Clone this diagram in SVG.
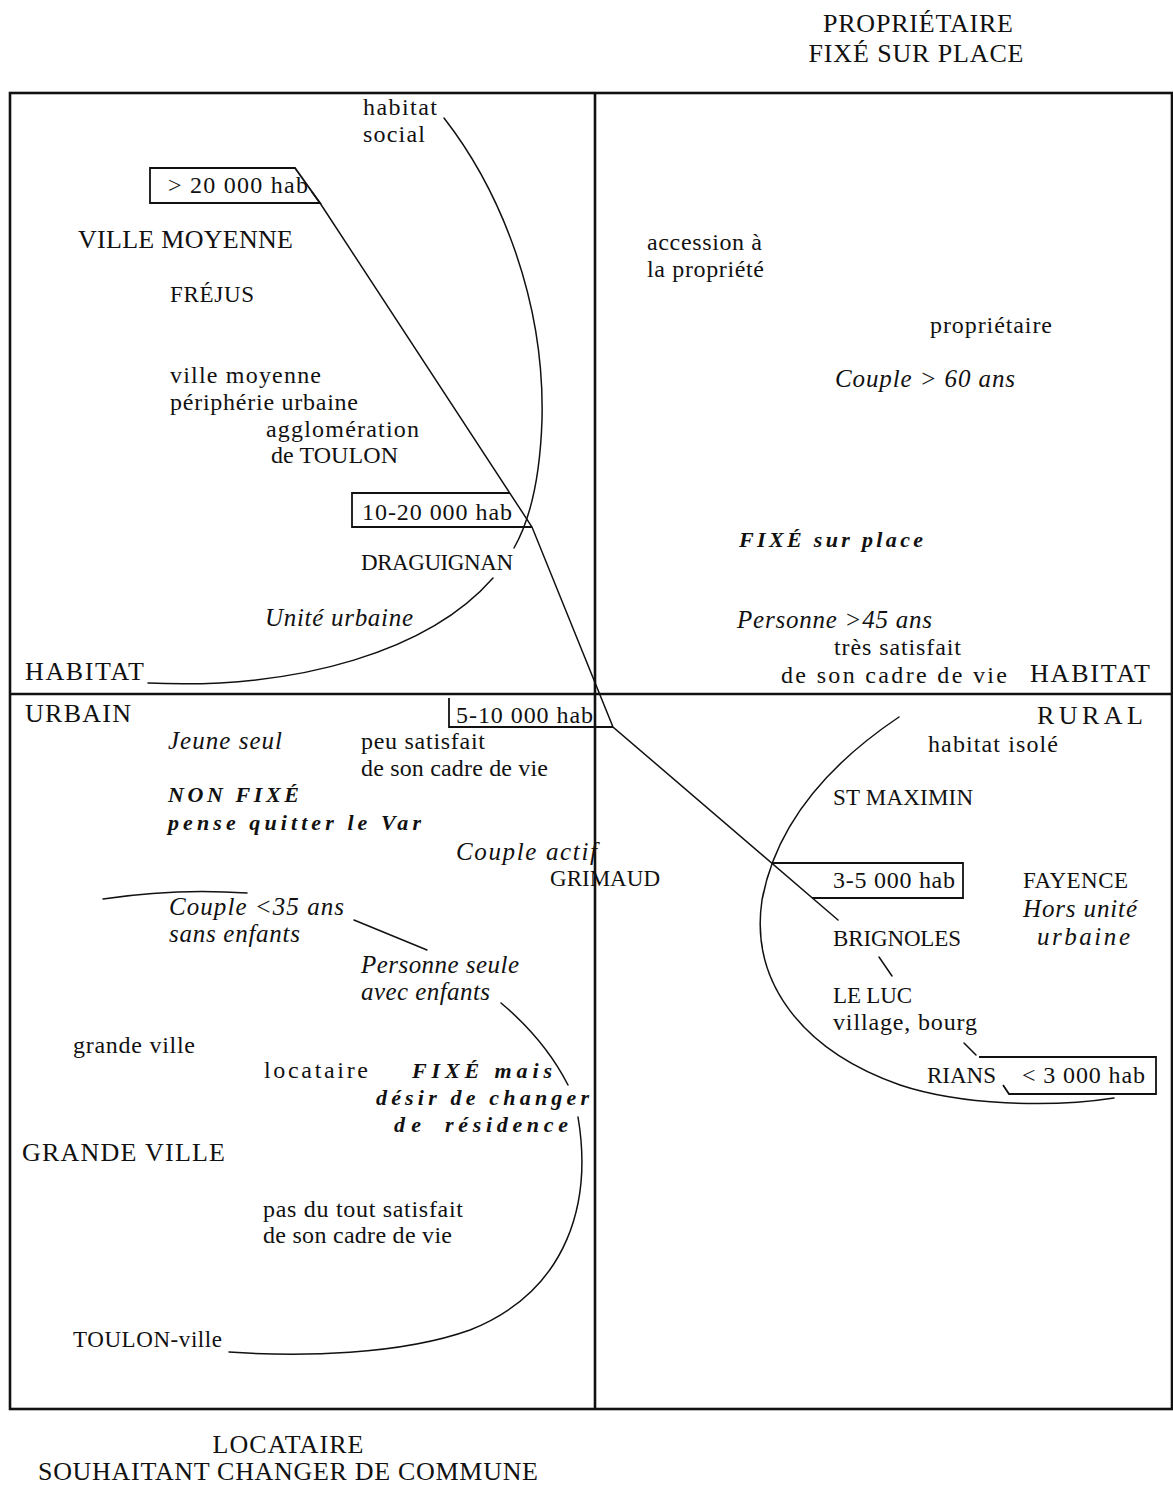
<svg xmlns="http://www.w3.org/2000/svg" width="1173" height="1486" viewBox="0 0 1173 1486">
  <style>
    text { font-family: "Liberation Serif", "Times New Roman", serif; fill: #111; }
    .cap { font-size: 26px; }
    .place { font-size: 23px; }
    .lc { font-size: 24px; }
    .it { font-size: 25px; font-style: italic; }
    .bi { font-size: 22px; font-style: italic; font-weight: bold; }
    .frame { fill: none; stroke: #111; stroke-width: 2.6; }
    .box { fill: none; stroke: #111; stroke-width: 1.8; stroke-linejoin: miter; }
    .curve { fill: none; stroke: #111; stroke-width: 1.5; stroke-linecap: round; }
  </style>

  <rect width="1173" height="1486" fill="#fff"/>

  <!-- outer frame and quadrant axes -->
  <g id="frame">
    <rect class="frame" x="10" y="93" width="1162" height="1316"/>
    <line class="frame" x1="595" y1="93" x2="595" y2="1409"/>
    <line class="frame" x1="10" y1="694" x2="1172" y2="694"/>
  </g>

  <!-- axis titles -->
  <g id="pole-proprietaire">
    <text class="cap" x="918" y="32" text-anchor="middle" textLength="190">PROPRIÉTAIRE</text>
    <text class="cap" x="916" y="62" text-anchor="middle" textLength="215">FIXÉ SUR PLACE</text>
  </g>
  <g id="pole-locataire">
    <text class="cap" x="288" y="1453" text-anchor="middle" textLength="151">LOCATAIRE</text>
    <text class="cap" x="288" y="1480" text-anchor="middle" textLength="500">SOUHAITANT CHANGER DE COMMUNE</text>
  </g>
  <g id="pole-urbain">
    <text class="cap" x="25" y="680" textLength="119">HABITAT</text>
    <text class="cap" x="25" y="722" textLength="106">URBAIN</text>
  </g>
  <g id="pole-rural">
    <text class="cap" x="1030" y="682" textLength="120">HABITAT</text>
    <text class="cap" x="1037" y="724" textLength="106">RURAL</text>
  </g>

  <!-- connectors: size gradient line and group contours -->
  <g id="connectors">
    <path class="curve" d="M312,192 L320,203 L532,527 L613,727 L838,920"/>
    <path class="curve" d="M444,118 C500,190 545,300 542,420 C540,480 530,520 514,548"/>
    <path class="curve" d="M493,578 C430,650 300,690 148,683"/>
    <path class="curve" d="M899,717 C820,770 775,830 762,900 C750,980 800,1050 900,1085 C960,1105 1050,1108 1114,1098"/>
    <path class="curve" d="M879,957 L892,976"/>
    <path class="curve" d="M964,1043 L976,1055"/>
    <path class="curve" d="M103,899 Q175,888 247,893"/>
    <path class="curve" d="M354,920 L427,950"/>
    <path class="curve" d="M501,1003 Q545,1040 568,1085"/>
    <path class="curve" d="M578,1117 C592,1200 570,1290 470,1330 C400,1355 300,1357 229,1352"/>
  </g>

  <!-- population size classes -->
  <g id="taille-20000">
    <path class="box" d="M295,168 H150 V203 H320 Z"/>
    <text class="lc" x="168" y="193" textLength="140">&gt; 20 000 hab</text>
  </g>
  <g id="taille-10-20000">
    <path class="box" d="M510,493 H352 V527 H532"/>
    <text class="lc" x="362" y="520" textLength="150">10-20 000 hab</text>
  </g>
  <g id="taille-5-10000">
    <path class="box" d="M449,698 V727 H613"/>
    <text class="lc" x="456" y="723" textLength="137">5-10 000 hab</text>
  </g>
  <g id="taille-3-5000">
    <path class="box" d="M772,863 H963 V898 H812"/>
    <text class="lc" x="833" y="888" textLength="122">3-5 000 hab</text>
  </g>
  <g id="taille-3000">
    <path class="box" d="M979,1057 H1156 V1094 H1009 L1003,1085"/>
    <text class="lc" x="1022" y="1083" textLength="123">&lt; 3 000 hab</text>
  </g>

  <!-- upper-left quadrant -->
  <g id="habitat-social">
    <text class="lc" x="363" y="115" textLength="74">habitat</text>
    <text class="lc" x="363" y="142" textLength="62">social</text>
  </g>
  <g id="ville-moyenne">
    <text class="cap" x="78" y="248" textLength="215">VILLE MOYENNE</text>
  </g>
  <g id="frejus">
    <text class="place" x="170" y="302" textLength="84">FRÉJUS</text>
  </g>
  <g id="peripherie">
    <text class="lc" x="170" y="383" textLength="151">ville moyenne</text>
    <text class="lc" x="170" y="410" textLength="188">périphérie urbaine</text>
    <text class="lc" x="266" y="437" textLength="153">agglomération</text>
    <text class="lc" x="271" y="463" textLength="127">de TOULON</text>
  </g>
  <g id="draguignan">
    <text class="place" x="361" y="570" textLength="152">DRAGUIGNAN</text>
  </g>
  <g id="unite-urbaine">
    <text class="it" x="265" y="626" textLength="148">Unité urbaine</text>
  </g>

  <!-- upper-right quadrant -->
  <g id="accession">
    <text class="lc" x="647" y="250" textLength="115">accession à</text>
    <text class="lc" x="647" y="277" textLength="117">la propriété</text>
  </g>
  <g id="proprietaire">
    <text class="lc" x="930" y="333" textLength="122">propriétaire</text>
  </g>
  <g id="couple-60">
    <text class="it" x="835" y="387" textLength="180">Couple &gt; 60 ans</text>
  </g>
  <g id="fixe-sur-place">
    <text class="bi" x="739" y="547" textLength="184">FIXÉ sur place</text>
  </g>
  <g id="personne-45">
    <text class="it" x="737" y="628" textLength="195">Personne &gt;45 ans</text>
  </g>
  <g id="tres-satisfait">
    <text class="lc" x="834" y="655" textLength="127">très satisfait</text>
    <text class="lc" x="781" y="683" textLength="226">de son cadre de vie</text>
  </g>

  <!-- lower-left quadrant -->
  <g id="jeune-seul">
    <text class="it" x="168" y="749" textLength="114">Jeune seul</text>
  </g>
  <g id="peu-satisfait">
    <text class="lc" x="361" y="749" textLength="124">peu satisfait</text>
    <text class="lc" x="361" y="776" textLength="187">de son cadre de vie</text>
  </g>
  <g id="non-fixe">
    <text class="bi" x="168" y="802" textLength="131">NON FIXÉ</text>
    <text class="bi" x="168" y="830" textLength="253">pense quitter le Var</text>
  </g>
  <g id="couple-actif">
    <text class="it" x="456" y="860" textLength="141">Couple actif</text>
  </g>
  <g id="grimaud">
    <text class="place" x="550" y="886" textLength="110">GRIMAUD</text>
  </g>
  <g id="couple-35">
    <text class="it" x="169" y="915" textLength="175">Couple &lt;35 ans</text>
    <text class="it" x="169" y="942" textLength="131">sans enfants</text>
  </g>
  <g id="personne-seule">
    <text class="it" x="361" y="973" textLength="158">Personne seule</text>
    <text class="it" x="361" y="1000" textLength="129">avec enfants</text>
  </g>
  <g id="grande-ville-lc">
    <text class="lc" x="73" y="1053" textLength="122">grande ville</text>
  </g>
  <g id="locataire">
    <text class="lc" x="264" y="1078" textLength="104">locataire</text>
  </g>
  <g id="fixe-mais">
    <text class="bi" x="412" y="1078" textLength="140">FIXÉ mais</text>
    <text class="bi" x="376" y="1105" textLength="213">désir de changer</text>
    <text class="bi" x="394" y="1132" textLength="27">de</text>
    <text class="bi" x="445" y="1132" textLength="123">résidence</text>
  </g>
  <g id="grande-ville">
    <text class="cap" x="22" y="1161" textLength="203">GRANDE VILLE</text>
  </g>
  <g id="pas-satisfait">
    <text class="lc" x="263" y="1217" textLength="200">pas du tout satisfait</text>
    <text class="lc" x="263" y="1243" textLength="189">de son cadre de vie</text>
  </g>
  <g id="toulon-ville">
    <text class="place" x="73" y="1347" textLength="149">TOULON-ville</text>
  </g>

  <!-- lower-right quadrant -->
  <g id="habitat-isole">
    <text class="lc" x="928" y="752" textLength="130">habitat isolé</text>
  </g>
  <g id="st-maximin">
    <text class="place" x="833" y="805" textLength="140">ST MAXIMIN</text>
  </g>
  <g id="fayence">
    <text class="place" x="1023" y="888" textLength="105">FAYENCE</text>
    <text class="it" x="1023" y="917" textLength="114">Hors unité</text>
    <text class="it" x="1037" y="945" textLength="93">urbaine</text>
  </g>
  <g id="brignoles">
    <text class="place" x="833" y="946" textLength="128">BRIGNOLES</text>
  </g>
  <g id="le-luc">
    <text class="place" x="833" y="1003" textLength="79">LE LUC</text>
    <text class="lc" x="833" y="1030" textLength="144">village, bourg</text>
  </g>
  <g id="rians">
    <text class="place" x="927" y="1083" textLength="69">RIANS</text>
  </g>
</svg>
